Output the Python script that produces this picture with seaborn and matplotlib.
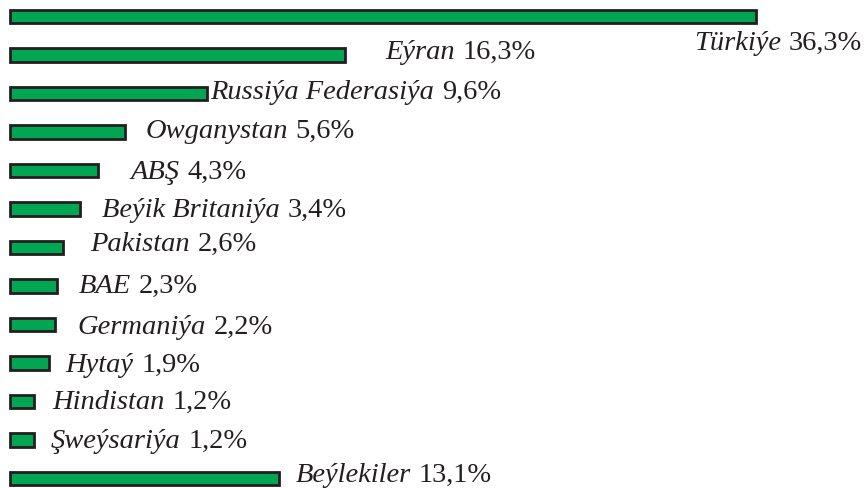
import matplotlib
matplotlib.use("Agg")
import matplotlib.pyplot as plt
import seaborn as sns
import pandas as pd

# Export partners and their share of total exports (%)
countries = [
    "Türkiýe", "Eýran", "Russiýa Federasiýa", "Owganystan", "ABŞ",
    "Beýik Britaniýa", "Pakistan", "BAE", "Germaniýa", "Hytaý",
    "Hindistan", "Şweýsariýa", "Beýlekiler",
]
shares = [36.3, 16.3, 9.6, 5.6, 4.3, 3.4, 2.6, 2.3, 2.2, 1.9, 1.2, 1.2, 13.1]

# Label anchors (left edge in data units, baseline in category units)
label_x = [None, 18.25, 9.76, 6.6, 5.87, 4.5, 3.93, 3.35, 3.3, 2.72, 2.09, 2.0, None]
label_y = [0.844, 1.078, 2.117, 3.13, 4.19, 5.18, 6.06, 7.16, 8.22, 9.21, 10.17, 11.18, 12.06]

GREEN = "#00A651"
EDGE = "#231F20"
FONT = "Liberation Serif"
FS = 20.5

df = pd.DataFrame({"country": countries, "share": shares})

sns.set_theme(style="white")
fig = plt.figure(figsize=(8.66, 4.89), dpi=100)
ax = fig.add_axes([0, 0, 1, 1])

sns.barplot(
    data=df, x="share", y="country", orient="h", order=countries,
    color=GREEN, saturation=1, edgecolor=EDGE, linewidth=2.0,
    width=0.35, ax=ax,
)

ax.set_xlim(-0.47, 41.63)
ax.set_ylim(12.25, -0.455)
ax.axis("off")


def fmt(v):
    return f"{v:.1f}".replace(".", ",") + "%"


for i, (name, v) in enumerate(zip(countries, shares)):
    y = label_y[i]
    if i == 0:
        # right-aligned label under the longest bar
        val = ax.text(41.45, y, fmt(v), ha="right", va="baseline",
                      family=FONT, fontsize=FS, color="#231F20")
        ax.annotate(name, xy=(0, 0), xycoords=val, xytext=(-5.5, 0),
                    textcoords="offset points", ha="right", va="bottom",
                    family=FONT, style="italic", fontsize=FS, color="#231F20")
        continue
    x = label_x[i] if label_x[i] is not None else v + 0.8
    nm = ax.text(x, y, name, ha="left", va="baseline", family=FONT,
                 style="italic", fontsize=FS, color="#231F20")
    ax.annotate(fmt(v), xy=(1, 0), xycoords=nm, xytext=(5.5, 0),
                textcoords="offset points", ha="left", va="bottom",
                family=FONT, fontsize=FS, color="#231F20")

fig.savefig("out.png", dpi=100, facecolor="white")
